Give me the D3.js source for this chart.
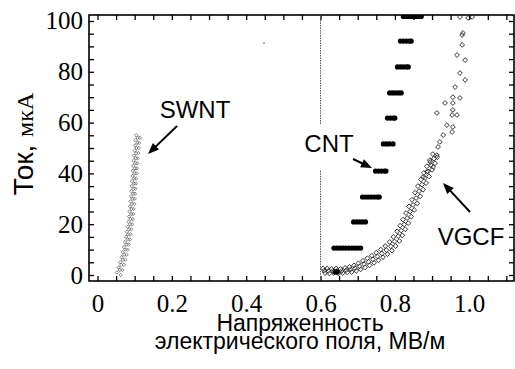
<!DOCTYPE html>
<html><head><meta charset="utf-8">
<script src="https://cdn.jsdelivr.net/npm/d3@7"></script>
<style>body{margin:0;background:#fff}svg{display:block}
.serif{font-family:"Liberation Serif","Tinos","Times New Roman","DejaVu Serif","Noto Serif",serif}
</style>
</head><body>
<svg id="c" width="515" height="369"></svg>
<script>
// ---- data ----
const xMajorTicks = [0, 0.2, 0.4, 0.6, 0.8, 1.0];
const xTickLabels = ["0", "0.2", "0.4", "0.6", "0.8", "1.0"];
const yMajorTicks = [0, 20, 40, 60, 80, 100];
const yTickLabels = ["0", "20", "40", "60", "80", "100"];

// SWNT (E, I)
const swntE = [0.052,0.062,0.057,0.067,0.061,0.071,0.065,0.075,0.068,0.078,0.071,0.081,0.074,0.084,0.077,0.087,0.079,0.089,0.081,0.091,0.083,0.093,0.085,0.095,0.086,0.096,0.087,0.097,0.089,0.099,0.090,0.100,0.091,0.101,0.092,0.102,0.093,0.103,0.094,0.104,0.095,0.105,0.096,0.106,0.097,0.107,0.098,0.108,0.100,0.110,0.101,0.111,0.102,0.112,0.104,0.114,
  0.060,0.064,0.068,0.072,0.075,0.078,0.081,0.083,0.085,0.087,0.089,0.091,0.092,0.093,0.095,0.096,0.097,0.098,0.099,0.100,0.101,0.102,0.103,0.104,0.105,0.107,0.108];
const swntI = [1,0,3,2,5,4,7,6,9,8,11,10,13,12,15,14,17,16,19,18,21,20,23,22,25,24,27,26,29,28,31,30,33,32,35,34,37,36,39,38,41,40,43,42,45,44,47,46,49,48,51,50,53,52,55,54,
  2,4,6,8,10,12,14,16,18,20,22,24,26,28,30,32,34,36,38,40,42,44,46,48,50,52,54];

// CNT (E, I)
const cntE = [0.640,0.645,
  0.636,0.644,0.652,0.660,0.668,0.676,0.684,0.692,0.700,0.708,
  0.689,0.697,0.705,0.713,0.721,
  0.713,0.721,0.729,0.737,0.745,0.753,0.758,
  0.748,0.756,0.764,0.772,0.776,
  0.769,0.777,0.785,0.795,
  0.780,0.788,0.796,0.800,
  0.786,0.794,0.802,0.810,0.817,
  0.807,0.815,0.823,0.831,0.836,
  0.815,0.823,0.831,0.839,0.844,
  0.823,0.831,0.839,0.847,0.855,0.863,0.871];
const cntI = [1.2,1.2,
  10.6,10.6,10.6,10.6,10.6,10.6,10.6,10.6,10.6,10.6,
  20.9,20.9,20.9,20.9,20.9,
  30.7,30.7,30.7,30.7,30.7,30.7,30.7,
  40.9,40.9,40.9,40.9,40.9,
  51.6,51.6,51.6,51.6,
  61.8,61.8,61.8,61.8,
  71.7,71.7,71.7,71.7,71.7,
  81.9,81.9,81.9,81.9,81.9,
  92.1,92.1,92.1,92.1,92.1,
  101.8,101.8,101.8,101.8,101.8,101.8,101.8];

// VGCF (E, I)
const vgcfE = [0.607,0.618,0.630,0.642,0.654,0.666,0.678,0.690,0.702,0.714,0.726,0.738,0.750,0.762,0.774,0.786,0.796,0.806,0.814,0.822,0.830,0.838,0.846,0.854,0.862,0.870,0.878,0.886,0.894,0.902,
  0.610,0.621,0.633,0.645,0.657,0.669,0.681,0.693,0.705,0.717,0.729,0.741,0.753,0.765,0.777,0.789,0.799,0.809,0.817,0.825,0.833,0.841,0.849,0.857,0.865,0.873,0.881,0.889,0.897,0.905,
  0.612,0.624,0.636,0.648,0.660,0.672,0.684,0.696,0.708,0.720,0.732,0.744,0.756,0.768,0.780,0.792,0.802,0.812,0.820,0.828,0.836,0.844,0.852,0.860,0.868,0.876,0.884,0.892,0.900,0.908,0.914,
  0.876,0.886,0.903,0.895,0.913,0.916,0.921,0.954,0.930,0.956,0.940,0.967,0.954,0.956,0.913,0.956,0.935,0.975,0.956,0.962,0.989,0.975,0.989,0.967,0.981,0.981,0.983,1.008,0.997,0.975];
const vgcfI = [2.6,2.6,2.4,2.6,2.4,2.8,3.2,3.8,4.6,5.6,6.6,7.6,8.8,10.0,11.4,13.0,15.0,17.2,19.4,21.8,24.4,27.0,29.6,32.4,35.0,37.6,40.2,42.8,45.2,47.6,
  1.7,1.6,1.6,1.6,1.6,1.9,2.2,2.7,3.4,4.3,5.2,6.2,7.3,8.5,9.8,11.3,13.2,15.3,17.5,19.9,22.4,25.0,27.6,30.3,33.0,35.6,38.2,40.8,43.3,45.8,
  0.8,0.6,0.8,0.6,0.8,1.0,1.2,1.6,2.2,3.0,3.8,4.8,5.8,7.0,8.2,9.6,11.4,13.4,15.6,18.0,20.4,23.0,25.6,28.2,31.0,33.6,36.2,38.8,41.4,44.0,46.4,
  38.6,40.6,42.5,44.5,47.2,50.4,52.4,56.3,55.1,58.3,59.0,63.0,63.0,65.0,63.8,67.7,67.7,69.7,70.0,74.0,76.8,79.5,84.6,86.6,90.6,94.5,95.3,101.6,101.2,101.6];

// stray point
const strayE = [0.448];
const strayI = [91.3];

// ---- drawing ----
const svg = d3.select("#c");
const L = 89, R = 514, T = 15, B = 281;
const x = d3.scaleLinear().domain([-0.0229, 1.1205]).range([L, R]);
const y = d3.scaleLinear().domain([-2.36, 102.36]).range([B, T]);

svg.append("defs").append("clipPath").attr("id","pc")
  .append("rect").attr("x",L).attr("y",T).attr("width",R-L).attr("height",B-T);

const minorX = d3.range(0, 1.1001, 0.05);
const minorY = d3.range(0, 100.001, 5);

// ticks
svg.append("g").attr("transform",`translate(0,${B})`)
  .call(d3.axisBottom(x).tickValues(minorX).tickSize(-5).tickFormat(""))
  .call(g=>g.select(".domain").remove());
svg.append("g").attr("transform",`translate(0,${T})`)
  .call(d3.axisTop(x).tickValues(minorX).tickSize(-5).tickFormat(""))
  .call(g=>g.select(".domain").remove());
svg.append("g").attr("transform",`translate(${L},0)`)
  .call(d3.axisLeft(y).tickValues(minorY).tickSize(-5).tickFormat(""))
  .call(g=>g.select(".domain").remove());
svg.append("g").attr("transform",`translate(${R},0)`)
  .call(d3.axisRight(y).tickValues(minorY).tickSize(-5).tickFormat(""))
  .call(g=>g.select(".domain").remove());
svg.selectAll(".tick line").attr("stroke","#000").attr("stroke-width",1.3);

// pick a serif font size so that "100" is ~37px wide
const probe = svg.append("text").attr("class","serif").style("font-size","25px").text("100");
const w100 = probe.node().getComputedTextLength();
probe.remove();
const serifSize = Math.max(18, Math.min(27, 25 * 37.5 / (w100 || 37.5)));

// labels
const gxl = svg.append("g").attr("transform",`translate(0,${B})`)
  .call(d3.axisBottom(x).tickValues(xMajorTicks).tickSize(0).tickPadding(13)
    .tickFormat((d,i)=>xTickLabels[i]));
gxl.select(".domain").remove();
const gyl = svg.append("g").attr("transform",`translate(${L},0)`)
  .call(d3.axisLeft(y).tickValues(yMajorTicks).tickSize(0).tickPadding(6)
    .tickFormat((d,i)=>yTickLabels[i]));
gyl.select(".domain").remove();
[gxl, gyl].forEach(g => g.attr("font-family", null).attr("font-size", null));
svg.selectAll(".tick text").attr("class","serif").style("font-size",serifSize+"px").attr("fill","#000");

// frame
svg.append("rect").attr("x",L).attr("y",T).attr("width",R-L).attr("height",B-T)
  .attr("fill","none").attr("stroke","#000").attr("stroke-width",1.6);

// vertical dotted line at 0.6
const vl = svg.append("g").attr("stroke","#555").attr("stroke-width",1).attr("stroke-dasharray","1.5,1");
vl.append("line").attr("x1",x(0.6)).attr("x2",x(0.6)).attr("y1",y(102.36)).attr("y2",y(59));
vl.append("line").attr("x1",x(0.6)).attr("x2",x(0.6)).attr("y1",y(41)).attr("y2",y(-2.36));

const plot = svg.append("g").attr("clip-path","url(#pc)");
const diamond = s => `M0,${-s}L${s},0L0,${s}L${-s},0Z`;

// SWNT
plot.append("g").selectAll("path").data(swntE).join("path")
  .attr("transform",(d,i)=>`translate(${x(d)},${y(swntI[i])})`)
  .attr("d",diamond(1.7)).attr("fill","none").attr("stroke","#555").attr("stroke-width",0.7);

// VGCF
plot.append("g").selectAll("path").data(vgcfE).join("path")
  .attr("transform",(d,i)=>`translate(${x(d)},${y(vgcfI[i])})`)
  .attr("d",diamond(2.4)).attr("fill","none").attr("stroke","#222").attr("stroke-width",0.9);

// CNT
plot.append("g").selectAll("circle").data(cntE).join("circle")
  .attr("cx",d=>x(d)).attr("cy",(d,i)=>y(cntI[i])).attr("r",2.6).attr("fill","#000");

// stray
plot.append("g").selectAll("rect").data(strayE).join("rect")
  .attr("x",d=>x(d)-0.8).attr("y",(d,i)=>y(strayI[i])-0.8).attr("width",1.6).attr("height",1.6).attr("fill","#888");

// annotations
const sans = "'Liberation Sans', Arial, sans-serif";
function arrow(x1,y1,x2,y2){
  const a = Math.atan2(y2-y1,x2-x1), hl=11, hw=4.5;
  svg.append("line").attr("x1",x1).attr("y1",y1)
    .attr("x2",x2-Math.cos(a)*hl*0.8).attr("y2",y2-Math.sin(a)*hl*0.8)
    .attr("stroke","#000").attr("stroke-width",2);
  const bx = x2-Math.cos(a)*hl, by = y2-Math.sin(a)*hl;
  const px = -Math.sin(a)*hw, py = Math.cos(a)*hw;
  svg.append("path").attr("d",`M${x2},${y2}L${bx+px},${by+py}L${bx-px},${by-py}Z`).attr("fill","#000");
}
svg.append("text").attr("x",195).attr("y",118).attr("text-anchor","middle")
  .attr("font-family",sans).attr("font-size",24).text("SWNT");
arrow(177,126,148,154);
svg.append("text").attr("x",329).attr("y",152).attr("text-anchor","middle")
  .attr("font-family",sans).attr("font-size",24).text("CNT");
arrow(353,159,372,168);
svg.append("text").attr("x",471).attr("y",245).attr("text-anchor","middle")
  .attr("font-family",sans).attr("font-size",24).text("VGCF");
arrow(470,212,443,183);

// axis titles
svg.append("text").attr("x",300).attr("y",331).attr("text-anchor","middle")
  .attr("font-family",sans).attr("font-size",23).text("Напряженность");
svg.append("text").attr("x",300).attr("y",349).attr("text-anchor","middle")
  .attr("font-family",sans).attr("font-size",23).text("электрического поля, МВ/м");

const yt = svg.append("text").attr("transform","translate(33,144) rotate(-90)")
  .attr("text-anchor","middle");
yt.append("tspan").attr("font-family",sans).attr("font-size",28).text("Ток, ");
yt.append("tspan").attr("class","serif").style("font-size",(serifSize-1)+"px").text("мкА");
</script>
</body></html>
